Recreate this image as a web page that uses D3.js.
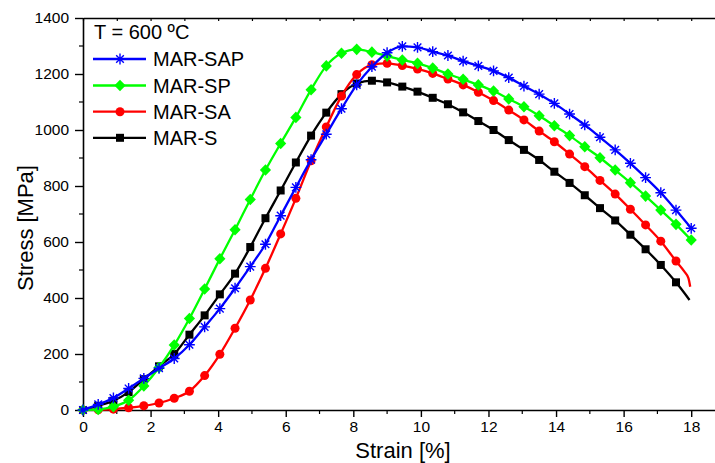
<!DOCTYPE html>
<html>
<head>
<meta charset="utf-8">
<script src="https://cdn.jsdelivr.net/npm/d3@7"></script>
<style>
  html, body { margin: 0; padding: 0; background: #fff; }
  svg { display: block; }
  text { font-family: "Liberation Sans", Arial, sans-serif; fill: #000; }
</style>
</head>
<body>
<svg id="chart" width="715" height="463"></svg>
<script>
// ---- data ----
const strain = [0, 0.45, 0.9, 1.35, 1.8, 2.25, 2.7, 3.15, 3.6, 4.05, 4.5, 4.95, 5.4, 5.85, 6.3, 6.75, 7.2, 7.65, 8.1, 8.55, 9, 9.45, 9.9, 10.35, 10.8, 11.25, 11.7, 12.15, 12.6, 13.05, 13.5, 13.95, 14.4, 14.85, 15.3, 15.75, 16.2, 16.65, 17.1, 17.55, 18];
const sapStress = [0, 20, 43, 77, 113, 149, 184, 233, 297, 362, 435, 512, 592, 694, 795, 894, 985, 1076, 1161, 1226, 1276, 1299, 1295, 1280, 1266, 1246, 1229, 1211, 1187, 1157, 1128, 1095, 1057, 1018, 974, 929, 881, 830, 776, 714, 649];
const spStress = [0, 2, 12, 35, 86, 152, 232, 327, 432, 540, 644, 752, 857, 952, 1045, 1144, 1229, 1274, 1288, 1278, 1264, 1250, 1238, 1221, 1200, 1181, 1161, 1139, 1111, 1083, 1051, 1015, 980, 940, 901, 857, 812, 764, 714, 663, 607];
const saStress = [0, 1, 3, 8, 15, 25, 42, 67, 123, 199, 292, 393, 506, 629, 756, 890, 1011, 1121, 1198, 1233, 1238, 1230, 1218, 1202, 1182, 1161, 1135, 1105, 1071, 1036, 996, 958, 914, 869, 820, 771, 717, 661, 603, 532];
const saTailStrain = [17.8, 17.92, 17.97];
const saTailStress = [494, 470, 440];
const sStress = [0, 15, 33, 64, 110, 156, 200, 269, 338, 413, 487, 582, 685, 784, 884, 980, 1062, 1128, 1166, 1176, 1170, 1155, 1137, 1115, 1092, 1063, 1032, 1000, 964, 929, 893, 851, 811, 767, 721, 677, 626, 574, 518, 456];
const sTailStrain = [17.95];
const sTailStress = [393];

const seriesNames = ["MAR-SAP", "MAR-SP", "MAR-SA", "MAR-S"];
const seriesColors = ["#0000ff", "#00ff00", "#ff0000", "#000000"];
const seriesMarkers = ["star", "diamond", "circle", "square"];
const xTickLabels = [0, 2, 4, 6, 8, 10, 12, 14, 16, 18];
const yTickLabels = [0, 200, 400, 600, 800, 1000, 1200, 1400];
const titleText = "T = 600 ºC";

// ---- build series ----
function pts(xs, ys) { return ys.map((v, i) => ({ x: xs[i], y: v })); }
const series = [
  { name: seriesNames[0], color: seriesColors[0], marker: seriesMarkers[0], marks: pts(strain, sapStress), tail: [] },
  { name: seriesNames[1], color: seriesColors[1], marker: seriesMarkers[1], marks: pts(strain, spStress), tail: [] },
  { name: seriesNames[2], color: seriesColors[2], marker: seriesMarkers[2], marks: pts(strain, saStress), tail: pts(saTailStrain, saTailStress) },
  { name: seriesNames[3], color: seriesColors[3], marker: seriesMarkers[3], marks: pts(strain, sStress), tail: pts(sTailStrain, sTailStress) }
];

// ---- layout ----
const svg = d3.select("#chart");
const pLeft = 83, pRight = 725, pTop = 18, pBottom = 410;
const x = d3.scaleLinear().domain([0, 19]).range([pLeft, pRight]);
const y = d3.scaleLinear().domain([0, 1400]).range([pBottom, pTop]);

// markers
function markerPath(type) {
  if (type === "star") {
    const r = 5.4, d = r * Math.SQRT1_2;
    return `M${-r},0L${r},0M0,${-r}L0,${r}M${-d},${-d}L${d},${d}M${-d},${d}L${d},${-d}`;
  }
  if (type === "diamond") return "M0,-5.8L5.6,0L0,5.8L-5.6,0Z";
  if (type === "circle") return d3.symbol(d3.symbolCircle, Math.PI * 4.5 * 4.5)();
  return "M-4,-4H4V4H-4Z";
}
function drawMarker(g, type, color) {
  if (type === "star") {
    g.append("path").attr("d", markerPath(type)).attr("fill", "none")
      .attr("stroke", color).attr("stroke-width", 1.4);
  } else {
    g.append("path").attr("d", markerPath(type)).attr("fill", color).attr("stroke", "none");
  }
}

// ---- axes ----
const axisG = svg.append("g");
const xAxis = d3.axisBottom(x).tickValues(xTickLabels).tickSize(7).tickSizeOuter(0).tickPadding(4)
  .tickFormat(d3.format("d"));
const gx = axisG.append("g").attr("transform", `translate(0,${pBottom})`).call(xAxis);
gx.select(".domain").attr("stroke-width", 1.6);
gx.selectAll(".tick line").attr("stroke-width", 1.4);
gx.selectAll(".tick text").style("font-size", "15.5px").style("font-family", "Liberation Sans, Arial, sans-serif");
const minorX = d3.range(1, 20, 2);
axisG.append("g").selectAll("line").data(minorX).join("line")
  .attr("x1", d => x(d)).attr("x2", d => x(d)).attr("y1", pBottom).attr("y2", pBottom + 4)
  .attr("stroke", "#000").attr("stroke-width", 1.2);

const yAxis = d3.axisLeft(y).tickValues(yTickLabels).tickSize(8).tickSizeOuter(0).tickPadding(6)
  .tickFormat(d3.format("d"));
const gy = axisG.append("g").attr("transform", `translate(${pLeft},0)`).call(yAxis);
gy.select(".domain").attr("stroke-width", 1.6);
gy.selectAll(".tick line").attr("stroke-width", 1.4);
gy.selectAll(".tick text").style("font-size", "15.5px").style("font-family", "Liberation Sans, Arial, sans-serif");
const minorY = d3.range(100, 1400, 200);
axisG.append("g").selectAll("line").data(minorY).join("line")
  .attr("x1", pLeft - 4).attr("x2", pLeft).attr("y1", d => y(d)).attr("y2", d => y(d))
  .attr("stroke", "#000").attr("stroke-width", 1.2);

const gt = axisG.append("g").attr("transform", `translate(0,${pTop})`)
  .call(d3.axisTop(x).tickValues(d3.range(0, 20, 1)).tickSize(-3).tickSizeOuter(0).tickFormat(""));
gt.select(".domain").attr("stroke-width", 1.6);
gt.selectAll(".tick line").attr("stroke-width", 1.2);

// axis titles
svg.append("text").attr("x", 403).attr("y", 458).attr("text-anchor", "middle")
  .style("font-size", "22px").text("Strain [%]");
svg.append("text").attr("transform", "translate(33,228) rotate(-90)").attr("text-anchor", "middle")
  .style("font-size", "22px").text("Stress [MPa]");

// ---- series ----
const line = d3.line().x(d => x(d.x)).y(d => y(d.y)).curve(d3.curveMonotoneX);
const drawOrder = [3, 2, 1, 0];
drawOrder.forEach(i => {
  const s = series[i];
  const g = svg.append("g");
  g.append("path").datum(s.marks.concat(s.tail)).attr("d", line)
    .attr("fill", "none").attr("stroke", s.color).attr("stroke-width", 2.3).attr("stroke-linejoin", "round");
  s.marks.forEach(p => {
    const mg = g.append("g").attr("transform", `translate(${x(p.x)},${y(p.y)})`);
    drawMarker(mg, s.marker, s.color);
  });
});

// ---- legend ----
svg.append("text").attr("x", 94).attr("y", 39).style("font-size", "20px").text(titleText);
const legendY = [59, 85.5, 111.7, 137.8];
series.forEach((s, i) => {
  const g = svg.append("g").attr("transform", `translate(0,${legendY[i]})`);
  g.append("line").attr("x1", 93).attr("x2", 146).attr("y1", 0).attr("y2", 0)
    .attr("stroke", s.color).attr("stroke-width", 2.3);
  const mg = g.append("g").attr("transform", "translate(120,0)");
  drawMarker(mg, s.marker, s.color);
  g.append("text").attr("x", 153).attr("y", 7).style("font-size", "20px").text(s.name);
});
</script>
</body>
</html>
